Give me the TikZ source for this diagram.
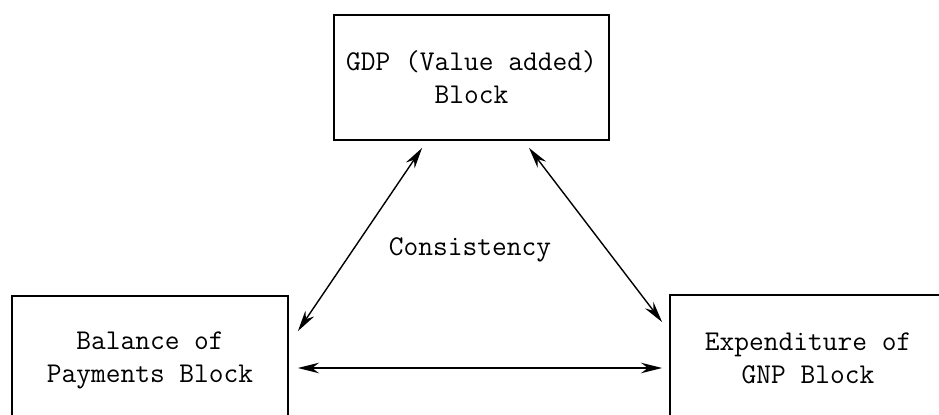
\documentclass[tikz,border=0pt]{standalone}
\usepackage{fontspec}
\usetikzlibrary{arrows.meta, calc}

\begin{document}
\begin{tikzpicture}[
    x=0.02cm, y=-0.02cm,
    block/.style={rectangle, draw, line width=1.1pt, align=center, font=\ttfamily\fontsize{16.3}{18.8}\selectfont},
    link/.style={{Stealth[length=12pt,width=6pt]}-{Stealth[length=12pt,width=6pt]}, line width=0.8pt},
    note/.style={font=\ttfamily\fontsize{16.3}{18.8}\selectfont}
]
\useasboundingbox (0,0) rectangle (939,415);
\clip (0,0) rectangle (939,415);

% GDP block
\node[block, minimum width=5.5cm, minimum height=2.5cm] (gdp) at (471.5,77.5) {GDP (Value added)\\Block};

% Balance of payments block
\node[block, minimum width=5.52cm, minimum height=2.56cm] (bop) at (150,360) {Balance of\\Payments Block};

% Expenditure block
\node[block, minimum width=5.52cm, minimum height=2.52cm] (gnp) at (808,358) {Expenditure of\\GNP Block};

% Label
\node[note] (cons) at (470,250) {Consistency};

% Arrows
\draw[link] ($(gdp.south west)+(89,7)$) -- ($(bop.north east)+(9,36)$);
\draw[link] ($(gdp.south west)+(196,7)$) -- ($(gnp.north west)+(-7,28)$);
\draw[link] ($(bop.east)+(9,8)$) -- ($(gnp.west)+(-7,10)$);

\end{tikzpicture}
\end{document}
